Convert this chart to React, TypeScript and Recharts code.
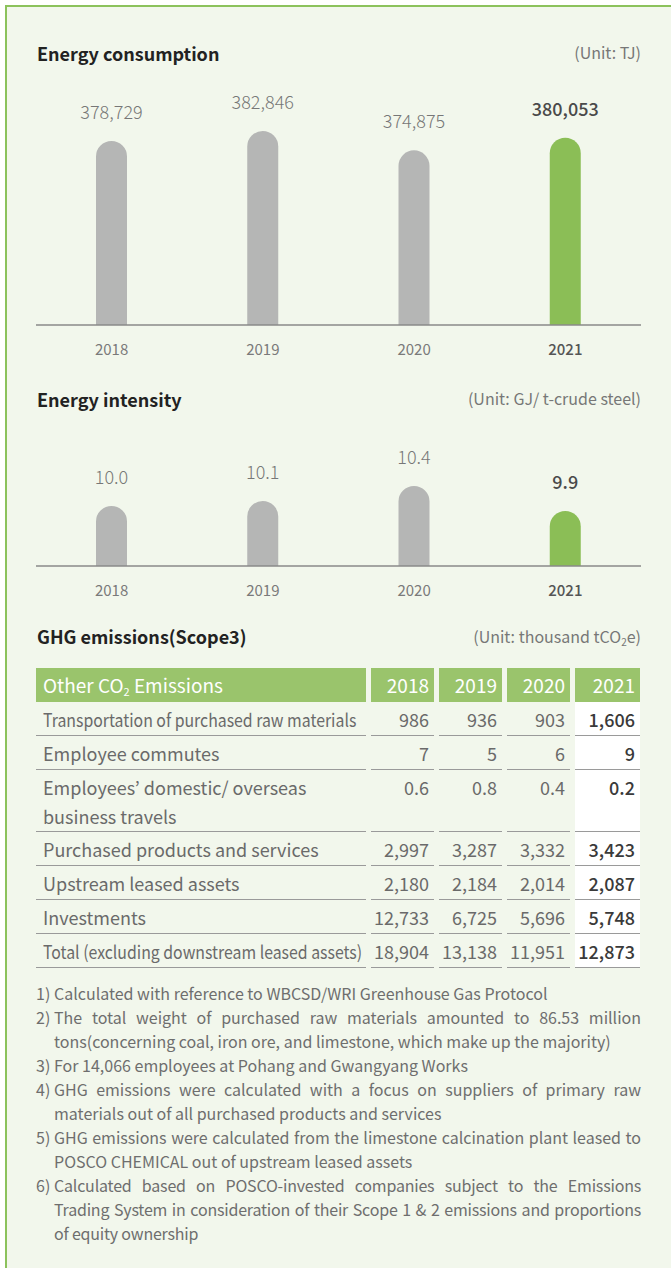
import React from "react";
import { BarChart, Bar, XAxis, YAxis, Cell, LabelList } from "recharts";

const YEARS = ["2018", "2019", "2020", "2021"];
const ENERGY_USE = [378729, 382846, 374875, 380053];
const ENERGY_INTENSITY = [10.0, 10.1, 10.4, 9.9];

const GHG_ROWS = [
  "Transportation of purchased raw materials",
  "Employee commutes",
  "Employees’ domestic/ overseas business travels",
  "Purchased products and services",
  "Upstream leased assets",
  "Investments",
  "Total (excluding downstream leased assets)",
];
const GHG_2018 = [986, 7, 0.6, 2997, 2180, 12733, 18904];
const GHG_2019 = [936, 5, 0.8, 3287, 2184, 6725, 13138];
const GHG_2020 = [903, 6, 0.4, 3332, 2014, 5696, 11951];
const GHG_2021 = [1606, 9, 0.2, 3423, 2087, 5748, 12873];

const NOTES = [
  "Calculated with reference to WBCSD/WRI Greenhouse Gas Protocol",
  "The total weight of purchased raw materials amounted to 86.53 million tons(concerning coal, iron ore, and limestone, which make up the majority)",
  "For 14,066 employees at Pohang and Gwangyang Works",
  "GHG emissions were calculated with a focus on suppliers of primary raw materials out of all purchased products and services",
  "GHG emissions were calculated from the limestone calcination plant leased to POSCO CHEMICAL out of upstream leased assets",
  "Calculated based on POSCO-invested companies subject to the Emissions Trading System in consideration of their Scope 1 & 2 emissions and proportions of equity ownership",
];

const FONT = '"Noto Sans CJK KR", "Noto Sans", sans-serif';
const GRAY = "#b5b6b5";
const GREEN = "#8bbe56";
const HEAD = "#9ac46c";
const BG = "#f2f7ec";

const fmtNum = (v: number) =>
  v < 1 ? v.toFixed(1) : v.toLocaleString("en-US");

function YearTick(props: any) {
  const { x, y, payload } = props;
  const last = payload.value === YEARS[YEARS.length - 1];
  return (
    <text
      x={x}
      y={y}
      dy={22}
      textAnchor="middle"
      fontFamily={FONT}
      fontSize={15}
      fontWeight={last ? 500 : 400}
      fill={last ? "#555" : "#7a7a7a"}
    >
      {payload.value}
    </text>
  );
}

function ValueLabel(props: any) {
  const { x, y, width, value, index, fmt } = props;
  const last = index === 3;
  return (
    <text
      x={Number(x) + Number(width) / 2}
      y={Number(y) - 22}
      textAnchor="middle"
      fontFamily={FONT}
      fontSize={18}
      fontWeight={last ? 500 : 300}
      fill={last ? "#4a4a4a" : "#777"}
    >
      {fmt(value)}
    </text>
  );
}

function YearBars({
  values,
  domain,
  top,
  plotH,
  fmt,
}: {
  values: number[];
  domain: [number, number];
  top: number;
  plotH: number;
  fmt: (v: number) => string;
}) {
  const data = YEARS.map((y, i) => ({ year: y, value: values[i] }));
  return (
    <div style={{ position: "absolute", left: 36, top }}>
      <BarChart
        width={605}
        height={plotH + 40}
        data={data}
        margin={{ top: 0, right: 0, left: 0, bottom: 0 }}
      >
        <YAxis hide domain={domain} allowDataOverflow />
        <XAxis
          dataKey="year"
          height={40}
          interval={0}
          tickLine={false}
          axisLine={{ stroke: "#8a8a8a", strokeWidth: 1.5 }}
          tick={<YearTick />}
        />
        <Bar
          dataKey="value"
          barSize={31}
          radius={[16, 16, 0, 0]}
          isAnimationActive={false}
        >
          {data.map((_, i) => (
            <Cell key={i} fill={i === 3 ? GREEN : GRAY} />
          ))}
          <LabelList dataKey="value" content={<ValueLabel fmt={fmt} />} />
        </Bar>
      </BarChart>
    </div>
  );
}

const title: React.CSSProperties = {
  position: "absolute",
  left: 37,
  fontSize: 18,
  fontWeight: 700,
  color: "#222",
  lineHeight: "24px",
};
const unit: React.CSSProperties = {
  position: "absolute",
  right: 30,
  fontSize: 16,
  color: "#777",
  lineHeight: "24px",
};

const COLS = "330px 63px 63px 63px 65px";

function GhgTable() {
  const cols = [GHG_2018, GHG_2019, GHG_2020, GHG_2021];
  return (
    <div
      style={{
        position: "absolute",
        left: 36,
        top: 668,
        width: 605,
        display: "grid",
        gridTemplateColumns: COLS,
        columnGap: 5,
        fontSize: 18,
      }}
    >
      <div
        style={{
          background: HEAD,
          color: "#fff",
          height: 34,
          lineHeight: "34px",
          paddingLeft: 7,
          fontSize: 19,
        }}
      >
        Other CO<sub style={{ fontSize: 11, verticalAlign: -3 }}>2</sub> Emissions
      </div>
      {YEARS.map((y) => (
        <div
          key={y}
          style={{
            background: HEAD,
            color: "#fff",
            height: 34,
            lineHeight: "34px",
            textAlign: "right",
            paddingRight: 5,
            fontSize: 19,
          }}
        >
          {y}
        </div>
      ))}
      {GHG_ROWS.map((r, ri) => {
        const h = ri === 2 ? 62 : 34;
        const squeeze = ri === 0 || ri === 6;
        const cell: React.CSSProperties = {
          height: h,
          borderBottom: "1px solid #9a9a9a",
          lineHeight: ri === 2 ? "29px" : "34px",
          paddingTop: ri === 2 ? 3 : 0,
          boxSizing: "border-box",
        };
        return (
          <React.Fragment key={r}>
            <div
              style={{
                ...cell,
                paddingLeft: 7,
                color: "#6a6a6a",
                whiteSpace: ri === 2 ? "normal" : "nowrap",
                paddingRight: ri === 2 ? 40 : 0,
              }}
            >
              <span
                style={{
                  display: "inline-block",
                  transform: squeeze ? "scaleX(0.88)" : "none",
                  transformOrigin: "left center",
                }}
              >
                {r}
              </span>
            </div>
            {cols.map((c, ci) => (
              <div
                key={ci}
                style={{
                  ...cell,
                  textAlign: "right",
                  paddingRight: 5,
                  color: ci === 3 ? "#3a3a3a" : "#6a6a6a",
                  fontWeight: ci === 3 ? 500 : 400,
                  background: ci === 3 ? "#fff" : "transparent",
                }}
              >
                {fmtNum(c[ri])}
              </div>
            ))}
          </React.Fragment>
        );
      })}
    </div>
  );
}

export default function App() {
  return (
    <div
      style={{
        position: "absolute",
        left: 0,
        top: 0,
        width: 671,
        height: 1268,
        background: "#fff",
        fontFamily: FONT,
      }}
    >
      <div
        style={{
          position: "absolute",
          left: 5,
          top: 5,
          right: 0,
          bottom: 0,
          background: BG,
          borderLeft: "2px solid #8cc25c",
          borderTop: "2px solid #8cc25c",
        }}
      />
      <div style={{ ...title, top: 41 }}>Energy consumption</div>
      <div style={{ ...unit, top: 40 }}>(Unit: TJ)</div>
      <YearBars
        values={ENERGY_USE}
        domain={[303000, 410000]}
        top={65}
        plotH={260}
        fmt={fmtNum}
      />

      <div style={{ ...title, top: 387 }}>Energy intensity</div>
      <div style={{ ...unit, top: 386 }}>(Unit: GJ/ t-crude steel)</div>
      <YearBars
        values={ENERGY_INTENSITY}
        domain={[8.8, 11.6]}
        top={426}
        plotH={140}
        fmt={(v) => v.toFixed(1)}
      />

      <div style={{ ...title, top: 624 }}>GHG emissions(Scope3)</div>
      <div style={{ ...unit, top: 624 }}>
        (Unit: thousand tCO<sub style={{ fontSize: 10, verticalAlign: -3 }}>2</sub>e)
      </div>
      <GhgTable />

      <div
        style={{
          position: "absolute",
          left: 36,
          top: 981,
          width: 605,
          fontSize: 16,
          lineHeight: "24px",
          color: "#6e6e6e",
        }}
      >
        {NOTES.map((n, i) => (
          <div key={i} style={{ display: "flex" }}>
            <div style={{ width: 18, flex: "none", whiteSpace: "nowrap" }}>
              {i + 1})
            </div>
            <div
              style={{
                flex: 1,
                textAlign: "justify",
                letterSpacing: i === 5 ? -0.2 : 0,
              }}
            >
              {n}
            </div>
          </div>
        ))}
      </div>
    </div>
  );
}
